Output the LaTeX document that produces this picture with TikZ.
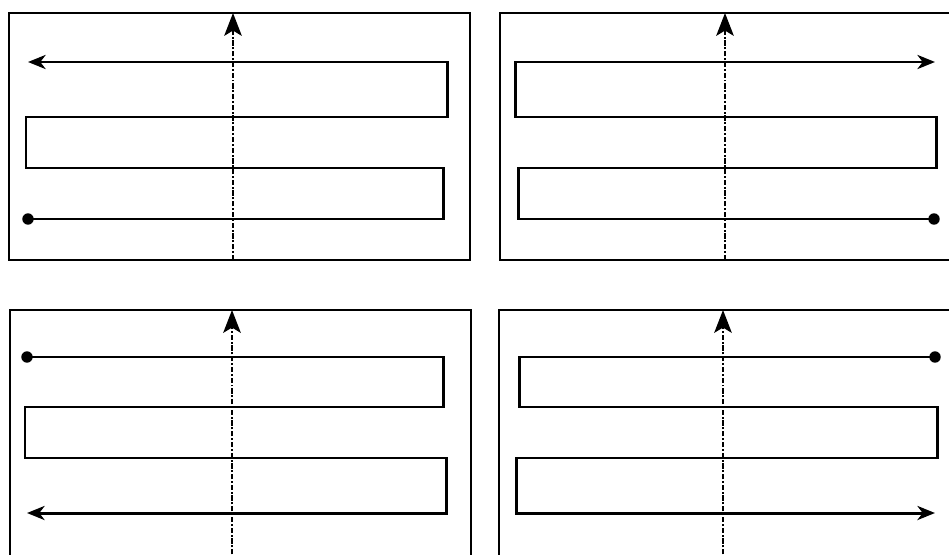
\documentclass[tikz,border=0pt]{standalone}
\usetikzlibrary{arrows.meta}
\begin{document}
\begin{tikzpicture}[x=0.02cm,y=-0.02cm,
  frame/.style={draw,line width=1.3pt},
  snake/.style={line width=1.7pt,line join=miter,
                -{Stealth[length=10pt,width=8pt,inset=3pt]}},
  axis/.style={line width=1.1pt,densely dashdotted,
               -{Stealth[length=13pt,width=10pt,inset=3pt]}},
  startdot/.style={circle,fill,inner sep=0pt,minimum size=6.5pt},
]
\useasboundingbox (0,0) rectangle (949,554);
\clip (0,0) rectangle (949,554);

% top left: start bottom left, end top left
\draw[frame] (9,13) rectangle (470,260);
\node[startdot] (s1) at (28,219) {};
\draw[snake] (s1.center) -- (443,219) -- (443,168) -- (26,168) -- (26,117)
  -- (447,117) -- (447,62) -- (28,62);
\draw[axis] (233,260) -- (233,13);

% top right: start bottom right, end top right
\draw[frame] (500,13) rectangle (975,260);
\node[startdot] (s2) at (934,219) {};
\draw[snake] (s2.center) -- (518,219) -- (518,168) -- (936,168) -- (936,117)
  -- (515,117) -- (515,62) -- (935,62);
\draw[axis] (725,260) -- (725,13);

% bottom left: start top left, end bottom left
\draw[frame] (10,310) rectangle (471,580);
\node[startdot] (s3) at (27,357) {};
\draw[snake] (s3.center) -- (443,357) -- (443,407) -- (25,407) -- (25,458)
  -- (446,458) -- (446,513) -- (27,513);
\draw[axis] (232,565) -- (232,310);

% bottom right: start top right, end bottom right
\draw[frame] (499,310) rectangle (975,580);
\node[startdot] (s4) at (935,357) {};
\draw[snake] (s4.center) -- (519,357) -- (519,407) -- (937,407) -- (937,458)
  -- (516,458) -- (516,513) -- (935,513);
\draw[axis] (723,565) -- (723,310);

\end{tikzpicture}
\end{document}
